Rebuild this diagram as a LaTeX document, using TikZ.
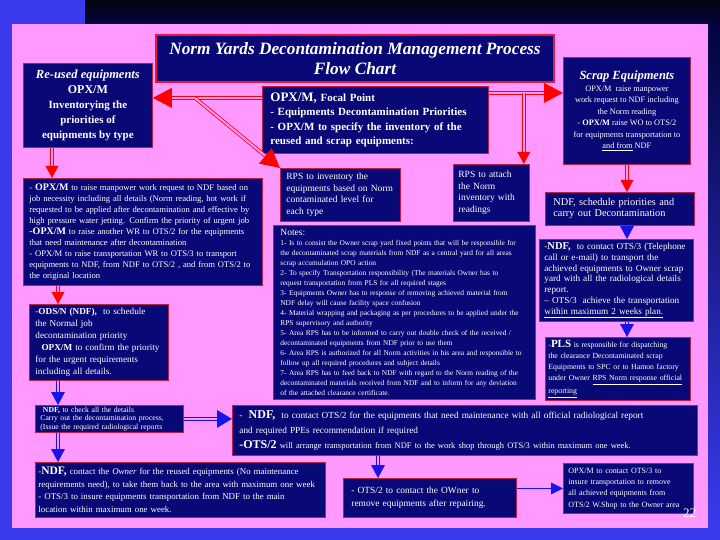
\documentclass[tikz,border=0pt]{standalone}
\usepackage{fontspec}
\setmainfont{Liberation Serif}
\usetikzlibrary{decorations.markings}
\definecolor{panel}{RGB}{255,153,255}
\definecolor{boxfill}{RGB}{8,8,118}
\definecolor{boxline}{RGB}{185,30,75}
\definecolor{titlered}{RGB}{235,20,60}
\definecolor{arrred}{RGB}{255,0,0}
\definecolor{arrblue}{RGB}{20,20,235}
\definecolor{bgblue}{RGB}{58,58,238}
\definecolor{topdark}{RGB}{4,4,14}

\begin{document}
\begin{tikzpicture}[x=1pt, y=-1pt,
  box/.style={draw=boxline, fill=boxfill, line width=0.8pt, text=white, inner xsep=5pt, inner ysep=3pt, anchor=north west, align=left},
  dbl/.style={draw=#1, double=panel, double distance=2pt, line width=0.8pt},
  headtip/.style n args={3}{shorten >=#2, postaction={decorate, decoration={markings, mark=at position 1 with {\fill[#1] (0,0) -- (-#2,#3) -- (-#2,-#3) -- cycle;}}}},
  redbig/.style={dbl=arrred, headtip={arrred}{19}{10}},
  redsml/.style={dbl=arrred, headtip={arrred}{12}{6.5}},
  bluedbl/.style={dbl=arrblue, headtip={arrblue}{13}{7}},
  bluesgl/.style={draw=arrblue, line width=0.8pt, headtip={arrblue}{12}{6}}]
  \useasboundingbox (0,0) rectangle (720,540);
  % slide background
  \fill[bgblue] (0,0) rectangle (720,540);
  \shade[top color=topdark, bottom color=topdark!80!blue] (85,0) rectangle (720,24);
  \shade[top color=topdark!80!blue, bottom color=bgblue] (708,24) rectangle (720,528);
  \shade[top color=bgblue, middle color=black!70!blue, bottom color=bgblue] (0,24) rectangle (12,540);
  \fill[panel] (12,24) rectangle (708,528);

  % Title
  \node[box, draw=titlered, line width=2pt, minimum width=398pt, minimum height=47pt, align=center, font=\fontsize{17.3}{20}\selectfont\bfseries\itshape] (title) at (155,34) {Norm Yards Decontamination Management Process\\ Flow Chart};

  % Top row
  \node[box, minimum width=129pt, minimum height=84pt, align=center, font=\fontsize{11}{15}\selectfont\bfseries] (reused) at (23,63) {{\fontsize{12.5}{15}\selectfont\itshape Re-used equipments}\\ {\fontsize{12}{15}\selectfont OPX/M}\\ Inventorying the\\ priorities of\\ equipments by type};
  \node[box, inner xsep=8pt, text width=210pt, minimum height=67pt, font=\fontsize{11}{14.5}\selectfont\bfseries] (focal) at (262,86) {{\fontsize{13}{15}\selectfont OPX/M,} Focal Point\\ - Equipments Decontamination Priorities\\ - OPX/M to specify the inventory of the\\ reused and scrap equipments:};
  \node[box, minimum width=127pt, minimum height=107pt, align=center, font=\fontsize{8.3}{11.5}\selectfont] (scrap) at (563,57) {{\fontsize{12.5}{16}\selectfont\bfseries\itshape Scrap Equipments}\\ OPX/M\ \ raise manpower\\ work request to NDF including\\ the Norm reading\\ - \textbf{OPX/M} raise WO to OTS/2\\ for equipments transportation to\\ \underline{and from} NDF};

  % Left column
  \node[box, inner xsep=6pt, text width=227pt, minimum height=107pt, font=\fontsize{8.6}{11}\selectfont] (opxwr) at (23,178) {- {\fontsize{10}{10}\selectfont\bfseries OPX/M} to raise manpower work request to NDF based on\\ job necessity including all details (Norm reading, hot work if\\ requested to be applied after decontamination and effective by\\ high pressure water jetting. Confirm the priority of urgent job\\ {\fontsize{10}{10}\selectfont\bfseries -OPX/M} to raise another WR to OTS/2 for the equipments\\ that need maintenance after decontamination\\ - OPX/M to raise transportation WR to OTS/3 to transport\\ equipments to NDF, from NDF to OTS/2 , and from OTS/2 to\\ the original location};
  \node[box, inner xsep=6pt, text width=127pt, minimum height=76pt, font=\fontsize{9.2}{12}\selectfont] (ods) at (29,304) {-\textbf{ODS/N (NDF),}\ \ to schedule\\ the Normal job\\ decontamination priority\\ \ \ \textbf{OPX/M} to confirm the priority\\ for the urgent requirements\\ including all details.};
  \node[box, inner ysep=1pt, text width=138pt, minimum height=27pt, font=\fontsize{7.7}{8.6}\selectfont] (check) at (35,405) {\ \textbf{NDF,} to check all the details\\ Carry out the decontamination process,\\ (Issue the required radiological reports};
  \node[box, inner xsep=3pt, text width=284pt, minimum height=55pt, font=\fontsize{8.9}{12.5}\selectfont] (owner) at (35,462) {-{\fontsize{11.5}{11}\selectfont\bfseries NDF,} contact the \textit{Owner} for the reused equipments (No maintenance\\ requirements need), to take them back to the area with maximum one week\\ - OTS/3 to insure equipments transportation from NDF to the main\\ location within maximum one week.};

  % Middle
  \node[box, inner xsep=6pt, text width=108pt, minimum height=53pt, font=\fontsize{9.5}{11.5}\selectfont] (rpsinv) at (280,168) {RPS to inventory the\\ equipments based on Norm\\ contaminated level for\\ each type};
  \node[box, text width=66pt, minimum height=57pt, font=\fontsize{9.5}{11.5}\selectfont] (rpsatt) at (453,164) {RPS to attach\\ the Norm\\ inventory with\\ readings};
  \node[box, inner xsep=7pt, text width=248pt, minimum height=174pt, font=\fontsize{7.4}{10}\selectfont] (notes) at (273,225) {{\fontsize{9.5}{10}\selectfont Notes:}\\ 1- Is to consist the Owner scrap yard fixed points that will be responsible for\\ the decontaminated scrap materials from NDF as a central yard for all areas\\ scrap accumulation OPO action\\ 2- To specify Transportation responsibility (The materials Owner has to\\ request transportation from PLS for all required stages\\ 3- Equipments Owner has to response of removing achieved material from\\ NDF delay will cause facility space confusion\\ 4- Material wrapping and packaging as per procedures to be applied under the\\ RPS supervisory and authority\\ 5- Area RPS has to be informed to carry out double check of the received /\\ decontaminated equipments from NDF prior to use them\\ 6- Area RPS is authorized for all Norm activities in his area and responsible to\\ follow up all required procedures and subject details\\ 7- Area RPS has to feed back to NDF with regard to the Norm reading of the\\ decontaminated materials received from NDF and to inform for any deviation\\ of the attached clearance certificate.};
  \node[box, inner xsep=7pt, text width=451pt, minimum height=50pt, font=\fontsize{9.3}{15}\selectfont] (wide) at (232,405) {-\ \ {\fontsize{12}{12}\selectfont\bfseries NDF,}\ \ to contact OTS/2 for the equipments that need maintenance with all official radiological report\\ and required PPEs recommendation if required\\ {\fontsize{12}{12}\selectfont\bfseries -OTS/2} {\fontsize{8.5}{15}\selectfont will arrange transportation from NDF to the work shop through OTS/3 within maximum one week.}};
  \node[box, inner xsep=8pt, text width=157pt, minimum height=39pt, font=\fontsize{9.4}{13}\selectfont] (ots2own) at (343,478) {- OTS/2 to contact the OWner to\\ remove equipments after repairing.};

  % Right column
  \node[box, inner xsep=8pt, text width=133pt, minimum height=33pt, font=\fontsize{10.3}{11}\selectfont] (ndfsched) at (545,192) {NDF, schedule priorities and\\ carry out Decontamination};
  \node[box, text width=144pt, minimum height=82pt, font=\fontsize{9.2}{10.8}\selectfont] (ots3) at (539,239) {-{\fontsize{10.5}{10}\selectfont\bfseries NDF,}\ \ to contact OTS/3 (Telephone\\ call or e-mail) to transport the\\ achieved equipments to Owner scrap\\ yard with all the radiological details\\ report.\\ -- OTS/3\ \ achieve the transportation\\ \underline{within maximum 2 weeks plan.}};
  \node[box, inner xsep=3pt, text width=139pt, minimum height=62pt, font=\fontsize{7.8}{11}\selectfont] (pls) at (545,337) {-{\fontsize{11}{11}\selectfont\bfseries PLS} is responsible for dispatching\\ the clearance Decontaminated scrap\\ Equipments to SPC or to Hamon factory\\ under Owner \underline{RPS Norm response official}\\[2pt] \underline{reporting}};
  \node[box, text width=120pt, minimum height=50pt, font=\fontsize{8}{11.3}\selectfont] (opx3) at (563,463) {OPX/M to contact OTS/3 to\\ insure transportation to remove\\ all achieved equipments from\\ OTS/2 W.Shop to the Owner area};
  \node[text=white, font=\fontsize{13}{13}\selectfont, inner sep=0pt, anchor=west] (pagenum) at (683,513) {22};

  % Red arrows from the focal point
  \coordinate (fpl) at ([yshift=22pt]focal.west);
  \coordinate (fpr) at ([yshift=27pt]focal.east);
  \coordinate (splitl) at ([xshift=-67pt]fpl);
  \coordinate (splitr) at ([xshift=35pt]fpr);
  \draw[redbig] (fpl) -- (fpl -| reused.east);
  \draw[redbig] (splitl) -- (rpsinv.north west);
  \draw[redbig] (fpr) -- (fpr -| scrap.west);
  \draw[redsml] (splitr) -- (splitr |- rpsatt.north);

  % Columns
  \coordinate (colA) at (52,0);
  \coordinate (colB) at (58,0);
  \coordinate (colC) at (627,0);
  \coordinate (colD) at (378,0);
  \draw[redsml] (reused.south -| colA) -- (opxwr.north -| colA);
  \draw[redsml] (opxwr.south -| colB) -- (ods.north -| colB);
  \draw[redsml] (scrap.south -| colC) -- (ndfsched.north -| colC);
  \draw[bluedbl] (ndfsched.south -| colC) -- (ots3.north -| colC);
  \draw[bluedbl] (ots3.south -| colC) -- (pls.north -| colC);
  \draw[bluedbl] (ods.south -| colB) -- (check.north -| colB);
  \draw[bluedbl] (check.south -| colB) -- (owner.north -| colB);
  \draw[dbl=arrblue, headtip={arrblue}{15}{9}] (check.east) -- (check.east -| wide.west);
  \draw[bluedbl] (wide.south -| colD) -- (ots2own.north -| colD);
  \coordinate (o2r) at ([yshift=9.5pt]ots2own.east);
  \draw[bluesgl] (o2r) -- (o2r -| opx3.west);
\end{tikzpicture}
\end{document}
